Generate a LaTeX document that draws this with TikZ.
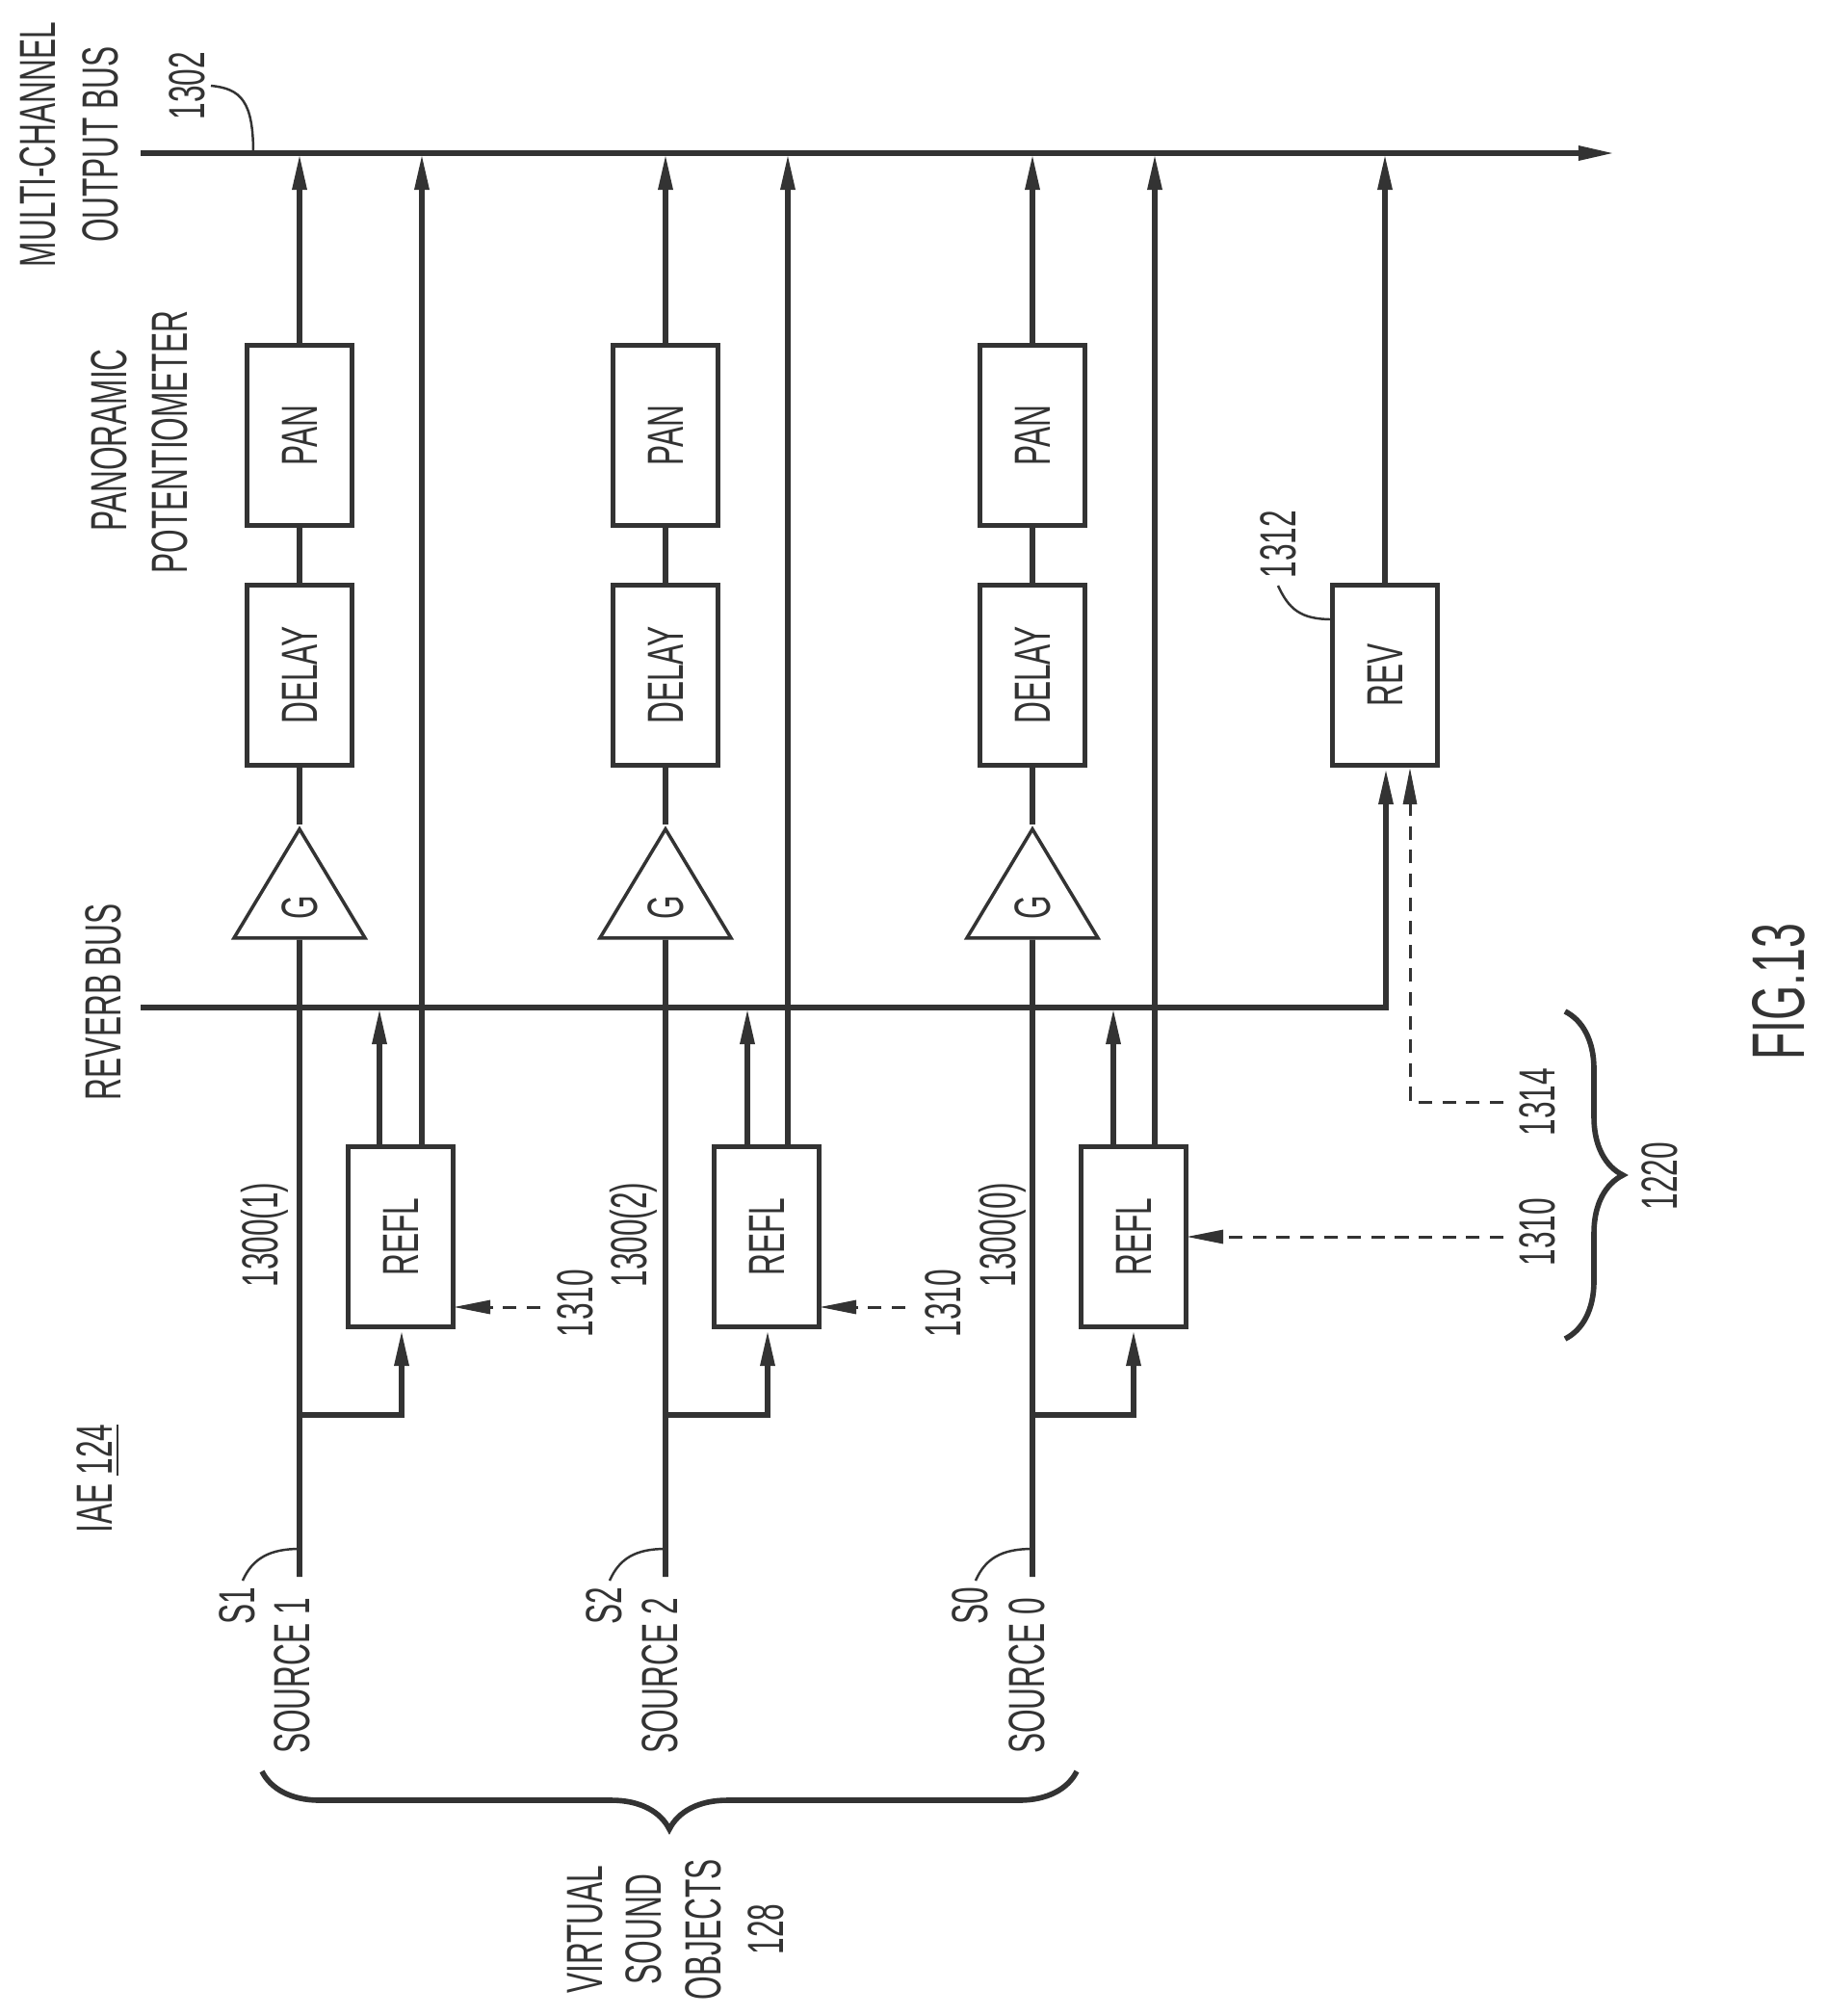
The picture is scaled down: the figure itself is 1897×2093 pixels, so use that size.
\documentclass[tikz,border=0pt]{standalone}
\usepackage{fontspec}
\setmainfont[FakeStretch=0.6]{Liberation Sans}
\usetikzlibrary{arrows.meta,shapes.geometric,decorations.pathreplacing}
\definecolor{ink}{gray}{0.2}
\tikzset{
  sig/.style={draw=ink,line width=1.7pt},
  arr/.style={sig,-{Triangle[length=0.38cm,width=0.14cm]}},
  ctl/.style={draw=ink,line width=0.85pt,dash pattern=on 4pt off 3pt,-{Triangle[length=0.38cm,width=0.14cm]}},
  lead/.style={draw=ink,line width=0.7pt},
  brc/.style={draw=ink,line width=1.6pt,decorate,decoration={brace,amplitude=0.6cm}},
  lbl/.style={rotate=90,text=ink,font=\fontsize{15}{15}\selectfont,inner sep=0pt},
  blk/.style={lbl,draw=ink,line width=1.4pt,minimum width=1.87cm,minimum height=1.09cm},
  gainblk/.style={lbl,draw=ink,line width=1pt,shape=isosceles triangle,isosceles triangle stretches,
    minimum width=1.36cm,minimum height=1.13cm},
}
\begin{document}
\begin{tikzpicture}[x=0.01cm,y=-0.01cm]
  \useasboundingbox (0,0) rectangle (1897,2093);

  % Buses
  \coordinate (outl) at (146,159);
  \coordinate (outr) at (1677,159);
  \coordinate (revl) at (146,1046);
  \coordinate (revr) at (1439,1046);
  \draw[arr] (outl) -- (outr);
  \node[lbl] (outa) at (39,150) {MULTI-CHANNEL};
  \node[lbl] (outb) at (104,150) {OUTPUT BUS};
  \node[lbl] (outn) at (194,89) {1302};
  \coordinate (outc) at (263,159);
  \coordinate (outd) at (219,89);
  \draw[lead] (outd) .. controls (250,92) and (263,105) .. (outc);
  \node[lbl] (pana) at (113,457) {PANORAMIC};
  \node[lbl] (panb) at (176,459) {POTENTIOMETER};
  \node[lbl] (revn) at (107,1040) {REVERB BUS};
  \node[lbl] (iae) at (102,1535) {IAE \underline{124}};

  % Source 1
  \coordinate (s1) at (311,1637);
  \coordinate (t1) at (311,1469);
  \coordinate (u1) at (417,1469);
  \coordinate (c1) at (394,1190);
  \coordinate (d1) at (438,1190);
  \coordinate (e1) at (561,1357);
  \coordinate (f1) at (471,1357);
  \node[blk] (pan1) at (311,452) {PAN};
  \node[blk] (del1) at (311,701) {DELAY};
  \node[gainblk] (gain1) at (311,942) {G};
  \node[blk] (refl1) at (416,1284) {REFL};
  \draw[arr] (pan1.east) -- (pan1.east |- outl);
  \draw[sig] (del1.east) -- (pan1.west);
  \draw[sig] (gain1.apex) -- (del1.west);
  \draw[sig] (s1) -- (gain1.west);
  \draw[arr] (t1) -- (u1) -- (u1 |- refl1.west);
  \draw[arr] (c1) -- (c1 |- revl);
  \draw[arr] (d1) -- (d1 |- outl);
  \draw[ctl] (e1) -- (f1);
  \node[lbl] (n1) at (275,1282) {1300(1)};
  \node[lbl] (m1) at (597,1353) {1310};
  \node[lbl] (src1) at (303,1740) {SOURCE 1};
  \node[lbl] (lab1) at (246,1667) {S1};
  \coordinate (g1) at (252,1641);
  \coordinate (h1) at (311,1608);
  \draw[lead] (g1) .. controls (262,1618) and (280,1608) .. (h1);

  % Source 2
  \coordinate (s2) at (691,1637);
  \coordinate (t2) at (691,1469);
  \coordinate (u2) at (797,1469);
  \coordinate (c2) at (776,1190);
  \coordinate (d2) at (818,1190);
  \coordinate (e2) at (940,1357);
  \coordinate (f2) at (851,1357);
  \node[blk] (pan2) at (691,452) {PAN};
  \node[blk] (del2) at (691,701) {DELAY};
  \node[gainblk] (gain2) at (691,942) {G};
  \node[blk] (refl2) at (796,1284) {REFL};
  \draw[arr] (pan2.east) -- (pan2.east |- outl);
  \draw[sig] (del2.east) -- (pan2.west);
  \draw[sig] (gain2.apex) -- (del2.west);
  \draw[sig] (s2) -- (gain2.west);
  \draw[arr] (t2) -- (u2) -- (u2 |- refl2.west);
  \draw[arr] (c2) -- (c2 |- revl);
  \draw[arr] (d2) -- (d2 |- outl);
  \draw[ctl] (e2) -- (f2);
  \node[lbl] (n2) at (658,1282) {1300(2)};
  \node[lbl] (m2) at (979,1353) {1310};
  \node[lbl] (src2) at (685,1740) {SOURCE 2};
  \node[lbl] (lab2) at (627,1667) {S2};
  \coordinate (g2) at (633,1641);
  \coordinate (h2) at (691,1608);
  \draw[lead] (g2) .. controls (643,1618) and (660,1608) .. (h2);

  % Source 0
  \coordinate (s0) at (1072,1637);
  \coordinate (t0) at (1072,1469);
  \coordinate (u0) at (1177,1469);
  \coordinate (c0) at (1156,1190);
  \coordinate (d0) at (1199,1190);
  \coordinate (e0) at (1561,1284);
  \coordinate (f0) at (1232,1284);
  \node[blk] (pan0) at (1072,452) {PAN};
  \node[blk] (del0) at (1072,701) {DELAY};
  \node[gainblk] (gain0) at (1072,942) {G};
  \node[blk] (refl0) at (1177,1284) {REFL};
  \draw[arr] (pan0.east) -- (pan0.east |- outl);
  \draw[sig] (del0.east) -- (pan0.west);
  \draw[sig] (gain0.apex) -- (del0.west);
  \draw[sig] (s0) -- (gain0.west);
  \draw[arr] (t0) -- (u0) -- (u0 |- refl0.west);
  \draw[arr] (c0) -- (c0 |- revl);
  \draw[arr] (d0) -- (d0 |- outl);
  \draw[ctl] (e0) -- (f0);
  \node[lbl] (n0) at (1041,1282) {1300(0)};
  \node[lbl] (m0) at (1596,1279) {1310};
  \node[lbl] (src0) at (1066,1740) {SOURCE 0};
  \node[lbl] (lab0) at (1007,1667) {S0};
  \coordinate (g0) at (1013,1641);
  \coordinate (h0) at (1072,1608);
  \draw[lead] (g0) .. controls (1023,1618) and (1040,1608) .. (h0);

  % Reverb
  \node[blk] (rev) at (1438,701) {REV};
  \coordinate (cc) at (1561,1144);
  \coordinate (cd) at (1464,1144);
  \draw[arr] (revl) -- (revr) -- (revr |- rev.west);
  \draw[arr] (rev.east) -- (rev.east |- outl);
  \draw[ctl] (cc) -- (cd) -- (cd |- rev.west);
  \node[lbl] (rn) at (1327,565) {1312};
  \coordinate (rc) at (1327,608);
  \coordinate (rd) at (1383,643);
  \draw[lead] (rc) .. controls (1338,632) and (1350,643) .. (rd);
  \node[lbl] (cn) at (1596,1144) {1314};

  % Braces
  \coordinate (ba) at (1118,1839);
  \coordinate (bb) at (272,1839);
  \draw[brc] (ba) -- (bb);
  \node[lbl] (vo1) at (608,2003) {VIRTUAL};
  \node[lbl] (vo2) at (668,2003) {SOUND};
  \node[lbl] (vo3) at (730,2003) {OBJECTS};
  \node[lbl] (vo4) at (795,2003) {128};
  \coordinate (bc) at (1625,1050);
  \coordinate (bd) at (1625,1390);
  \draw[brc] (bc) -- (bd);
  \node[lbl] (bn) at (1723,1221) {1220};

  % Figure number
  \node[lbl,font=\fontsize{22}{22}\selectfont] (fig) at (1847,1030) {FIG.13};
\end{tikzpicture}
\end{document}
